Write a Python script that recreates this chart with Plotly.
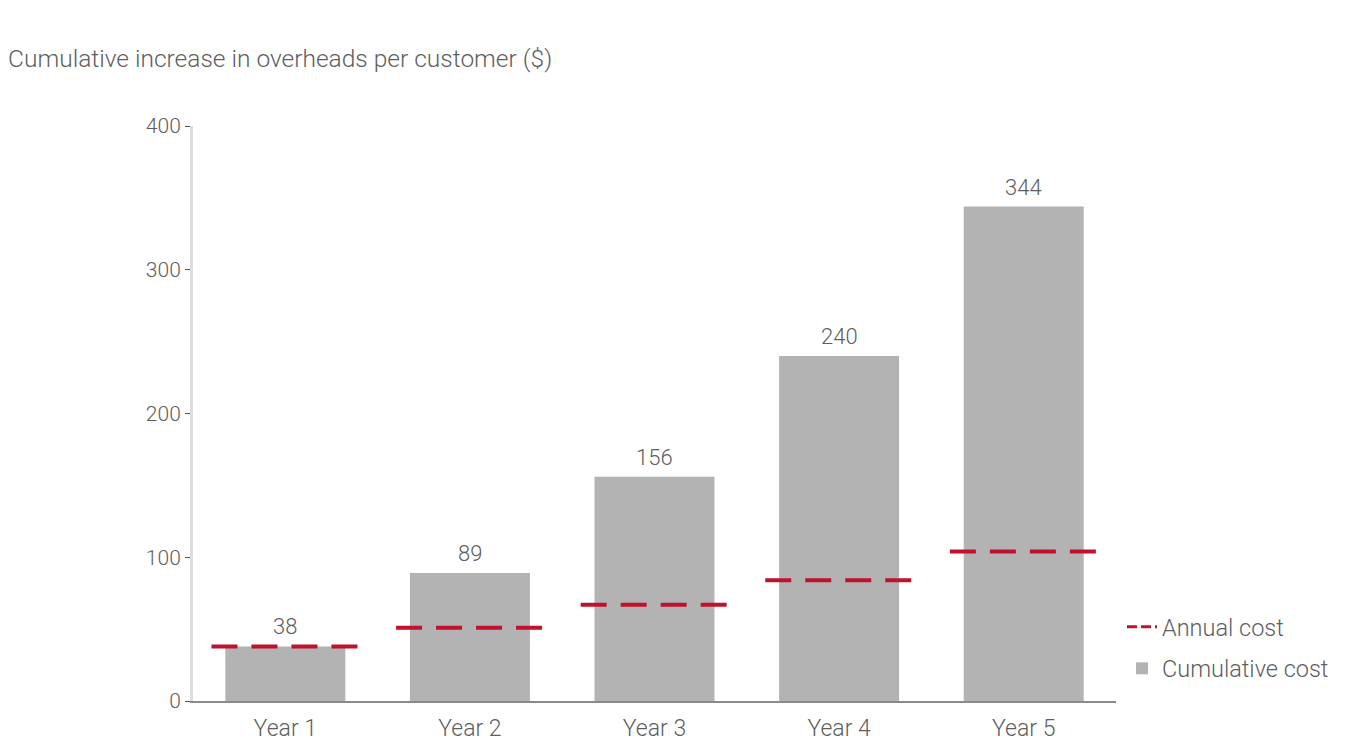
import plotly.graph_objects as go

# Data
years = ["Year 1", "Year 2", "Year 3", "Year 4", "Year 5"]
cumulative_cost = [38, 89, 156, 240, 344]
annual_cost = [38, 51, 67, 84, 104]
y_ticks = [0, 100, 200, 300, 400]

FONT = "Roboto, sans-serif"
TEXT = "#5e5e5e"
BAR = "#b3b3b3"
RED = "#c0122c"

pos = list(range(len(years)))
half = 0.4  # half-width of the annual-cost dash segment, in category units

# Annual cost drawn as a short dashed segment across each bar
seg_x, seg_y = [], []
for p, v in zip(pos, annual_cost):
    seg_x += [p - half, p + half, None]
    seg_y += [v, v, None]

fig = go.Figure()
# Legend key for the annual cost (finer dash than the plotted segments)
fig.add_trace(go.Scatter(
    x=[None], y=[None], mode="lines", name="Annual cost",
    legendgroup="a",
    line=dict(color=RED, width=3, dash="10px,4px"),
    hoverinfo="skip",
))
fig.add_trace(go.Scatter(
    x=seg_x, y=seg_y, mode="lines", name="Annual cost",
    legendgroup="a", showlegend=False,
    line=dict(color=RED, width=4, dash="26px,14px"),
    hoverinfo="skip",
))
fig.add_trace(go.Bar(
    x=pos, y=cumulative_cost, name="Cumulative cost",
    legendgroup="b",
    width=0.65, marker=dict(color=BAR, line=dict(width=0)),
))

# Value labels above the bars
for p, v in zip(pos, cumulative_cost):
    fig.add_annotation(
        x=p, y=v, text=str(v), showarrow=False,
        yanchor="bottom", yshift=5,
        font=dict(family=FONT, size=22, color=TEXT, weight=300),
    )

fig.update_layout(
    width=1352, height=744,
    margin=dict(l=193, r=236, t=126, b=43, autoexpand=False),
    paper_bgcolor="white", plot_bgcolor="white",
    font=dict(family=FONT, size=22, color=TEXT, weight=300),
    title=dict(
        text="Cumulative increase in overheads per customer ($)",
        x=0.006, xanchor="left", xref="container",
        y=1 - 58 / 744, yanchor="middle", yref="container",
        font=dict(family=FONT, size=24.5, color=TEXT, weight=300),
    ),
    showlegend=True,
    legend=dict(
        x=1.0065, xanchor="left", y=0.167, yanchor="top",
        font=dict(family=FONT, size=23.5, color=TEXT, weight=300),
        tracegroupgap=8, itemwidth=30,
        bgcolor="rgba(0,0,0,0)",
    ),
    bargap=0.35,
)

fig.update_xaxes(
    range=[-0.5, len(years) - 0.5],
    tickvals=pos, ticktext=years,
    showgrid=False, zeroline=False,
    showline=True, linecolor="#8a8a8a", linewidth=2,
    ticks="", ticklabelstandoff=5,
    tickfont=dict(family=FONT, size=23, color=TEXT, weight=300),
    automargin=False, fixedrange=True,
)
fig.update_yaxes(
    range=[0, 400],
    tickvals=y_ticks,
    showgrid=False, zeroline=False,
    showline=True, linecolor="#dcdcdc", linewidth=3,
    ticks="outside", ticklen=5, tickcolor="#555555", tickwidth=1,
    tickfont=dict(family=FONT, size=21, color=TEXT, weight=300),
    automargin=False, fixedrange=True,
)

fig.write_html("out.html")
